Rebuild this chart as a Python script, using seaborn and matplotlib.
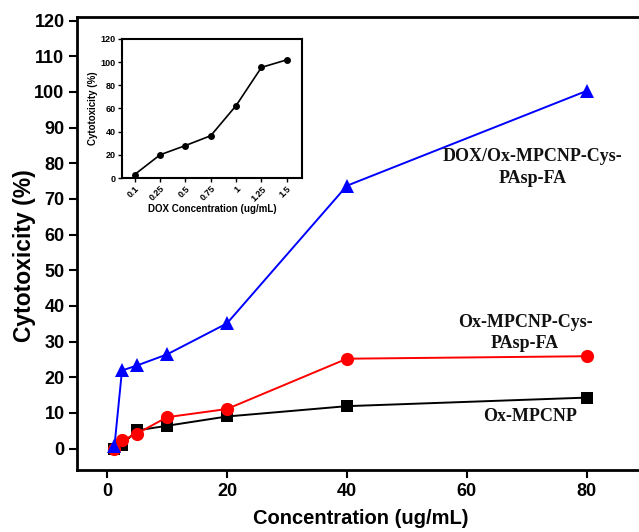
import matplotlib
matplotlib.use("Agg")
import matplotlib.pyplot as plt
import seaborn as sns
import pandas as pd

conc = [1.25, 2.5, 5, 10, 20, 40, 80]
ox_mpcnp = [0.0, 1.1, 5.1, 6.4, 9.0, 11.9, 14.3]
ox_cys_fa = [0.0, 2.3, 4.2, 8.8, 11.1, 25.2, 25.9]
dox_fa = [0.8, 21.9, 23.3, 26.4, 35.1, 73.7, 100.3]

dox_conc = ["0.1", "0.25", "0.5", "0.75", "1", "1.25", "1.5"]
dox_tox = [3.0, 20.0, 28.0, 36.5, 62.5, 95.5, 102.0]

sns.set_theme(style="white")
plt.rcParams['font.family'] = ['Liberation Sans', 'DejaVu Sans']
plt.rcParams['text.color'] = 'black'
plt.rcParams['axes.labelcolor'] = 'black'
plt.rcParams['xtick.color'] = 'black'
plt.rcParams['ytick.color'] = 'black'

fig = plt.figure(figsize=(6.39, 5.32), dpi=100)
ax = fig.add_axes([77/639, 62/532, (645-77)/639, (470-17)/532])

series = [
    (ox_mpcnp, "black", "s", 8),
    (ox_cys_fa, "#ff0000", "o", 9.5),
    (dox_fa, "#0000ff", "^", 9.5),
]
for vals, col, mk, ms in series:
    df = pd.DataFrame({"x": conc, "y": vals})
    sns.lineplot(data=df, x="x", y="y", ax=ax, color=col, marker=mk,
                 markersize=ms, markeredgecolor=col,
                 linewidth=1.4, markeredgewidth=0)

ax.set_xlim(-5, 89.7)
ax.set_ylim(-6, 121)
ax.set_xticks([0, 20, 40, 60, 80])
ax.set_yticks(range(0, 121, 10))
for s in ax.spines.values():
    s.set_linewidth(2)
    s.set_color("black")
ax.tick_params(direction="out", length=6, width=1.5, colors="black",
               labelsize=13, left=True, bottom=True, pad=3)
for lab in ax.get_xticklabels() + ax.get_yticklabels():
    lab.set_fontweight("bold")
ax.set_xlabel("Concentration (ug/mL)", fontsize=14.5, fontweight="bold", labelpad=7)
ax.set_ylabel("Cytotoxicity (%)", fontsize=16.5, fontweight="bold")
ax.yaxis.set_label_coords(-0.072, 0.4735)

serif = ['Liberation Serif', 'DejaVu Serif']
ax.text(71, 78.8, "DOX/Ox-MPCNP-Cys-\nPAsp-FA", ha="center", va="center",
        fontsize=13, fontweight="bold", family=serif, linespacing=1.35,
        color="#111111")
ax.text(69.7, 32.4, "Ox-MPCNP-Cys-\nPAsp-FA", ha="center", va="center",
        fontsize=13, fontweight="bold", family=serif, linespacing=1.35,
        color="#111111")
ax.text(70.5, 9.0, "Ox-MPCNP", ha="center", va="center",
        fontsize=13, fontweight="bold", family=serif, color="#111111")

# inset
axi = fig.add_axes([122/639, (532-178)/532, 180/639, 139/532])
dfi = pd.DataFrame({"x": dox_conc, "y": dox_tox})
sns.lineplot(data=dfi, x="x", y="y", ax=axi, color="black", marker="o",
             markersize=5, markeredgewidth=0, linewidth=1.2, sort=False)
axi.set_xlim(-0.5, 6.6)
axi.set_ylim(0, 120)
axi.set_yticks(range(0, 121, 20))
for s in axi.spines.values():
    s.set_linewidth(1.5)
    s.set_color("black")
axi.tick_params(direction="out", length=3, width=1, colors="black",
                labelsize=6.5, left=True, bottom=True, pad=1.5)
for lab in axi.get_xticklabels():
    lab.set_rotation(45)
    lab.set_ha("right")
    lab.set_rotation_mode("anchor")
for lab in axi.get_xticklabels() + axi.get_yticklabels():
    lab.set_fontweight("bold")
axi.set_xlabel("DOX Concentration (ug/mL)", fontsize=7, fontweight="bold", labelpad=1)
axi.set_ylabel("Cytotoxicity (%)", fontsize=7, fontweight="bold", labelpad=2)

fig.savefig("out.png", dpi=100)
